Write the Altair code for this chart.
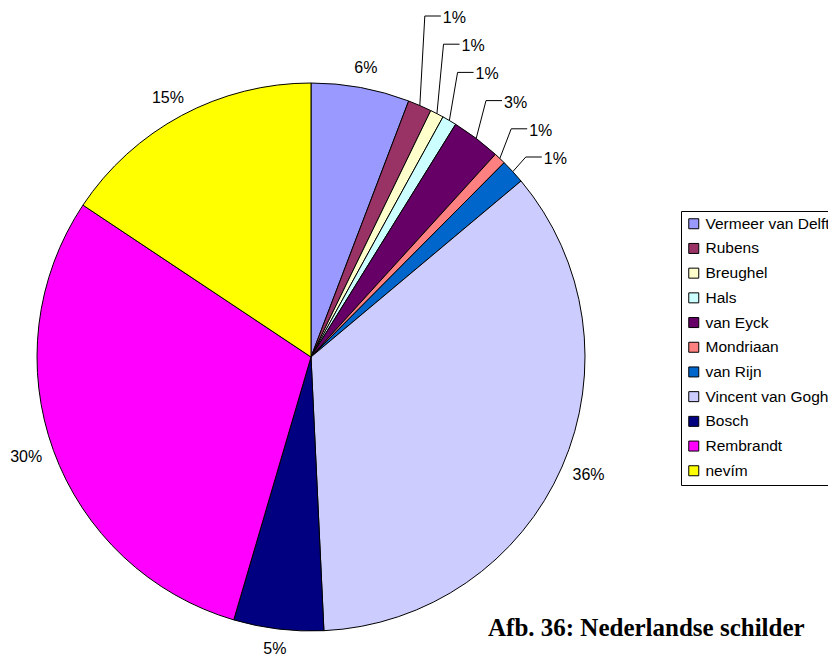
import math
import altair as alt
import pandas as pd

# ---- data ----
names = ["Vermeer van Delft", "Rubens", "Breughel", "Hals", "van Eyck", "Mondriaan",
         "van Rijn", "Vincent van Gogh", "Bosch", "Rembrandt", "nevím"]
values = [5.8, 1.4, 0.8, 0.85, 2.9, 0.7, 1.45, 35.35, 5.3, 29.8, 15.65]
labels = ["6%", "1%", "1%", "1%", "3%", "1%", "1%", "36%", "5%", "30%", "15%"]
colors = ["#9999FF", "#993366", "#FFFFCC", "#CCFFFF", "#660066", "#FF8080",
          "#0066CC", "#CCCCFF", "#000080", "#FF00FF", "#FFFF00"]
with_leader = [False, True, True, True, True, True, True, False, False, False, False]
title_text = "Afb. 36: Nederlandse schilder"

# ---- layout ----
W, H = 820, 650
CX, CY = 303, 349
R = 274
RX_LABEL, RY_LABEL = 303, 294
LEAD_TOP = 10
LEAD_STEP = 28.2

total = sum(values)
rows, lab_rows, lead_rows = [], [], []
cum = 0.0
k = 0
for i, (n, v, lab, lead) in enumerate(zip(names, values, labels, with_leader)):
    rows.append({"idx": i, "name": n, "value": v})
    mid = (cum + v / 2) / total * 2 * math.pi
    cum += v
    if not lead:
        lab_rows.append({"name": n, "label": lab,
                         "x": CX + RX_LABEL * math.sin(mid),
                         "y": CY - RY_LABEL * math.cos(mid), "align": "center"})
    else:
        ty = LEAD_TOP + LEAD_STEP * k
        sx = CX + R * math.sin(mid)
        sy = CY - R * math.cos(mid)
        ex = sx + 5 + 1.6 * k
        ey = ty - 2
        hx = ex + 16
        lead_rows += [{"name": n, "step": 0, "x": sx, "y": sy},
                      {"name": n, "step": 1, "x": ex, "y": ey},
                      {"name": n, "step": 2, "x": hx, "y": ey}]
        lab_rows.append({"name": n, "label": lab, "x": hx + 2, "y": ty, "align": "left"})
        k += 1

df = pd.DataFrame(rows)
df_lab = pd.DataFrame(lab_rows)
df_lead = pd.DataFrame(lead_rows)

xs = alt.Scale(domain=[0, W], range=[0, W], nice=False, zero=False)
ys = alt.Scale(domain=[0, H], range=[0, H], nice=False, zero=False)

pie = alt.Chart(df).mark_arc(radius=R, stroke="black", strokeWidth=1).encode(
    theta=alt.Theta("value:Q", stack=True),
    order=alt.Order("idx:Q"),
    color=alt.Color("name:N", scale=alt.Scale(domain=names, range=colors),
                    legend=alt.Legend(title=None, orient="none", legendX=673, legendY=203,
                                      symbolType="square", symbolSize=100,
                                      symbolStrokeColor="black", symbolStrokeWidth=1,
                                      labelFont="Liberation Sans", labelFontSize=15.5,
                                      labelColor="black", strokeColor="black",
                                      fillColor="white", padding=5, rowPadding=7.7,
                                      labelOffset=4, labelLimit=400)),
    x=alt.value(CX), y=alt.value(CY),
)

lines = alt.Chart(df_lead).mark_line(color="black", strokeWidth=1).encode(
    x=alt.X("x:Q", scale=xs, axis=None),
    y=alt.Y("y:Q", scale=ys, axis=None),
    detail="name:N",
    order="step:Q",
)

txt_c = alt.Chart(df_lab[df_lab["align"] == "center"]).mark_text(
    font="Liberation Sans", fontSize=16, color="black", align="center", baseline="middle"
).encode(x=alt.X("x:Q", scale=xs, axis=None), y=alt.Y("y:Q", scale=ys, axis=None),
         text="label:N")

txt_l = alt.Chart(df_lab[df_lab["align"] == "left"]).mark_text(
    font="Liberation Sans", fontSize=16, color="black", align="left", baseline="middle"
).encode(x=alt.X("x:Q", scale=xs, axis=None), y=alt.Y("y:Q", scale=ys, axis=None),
         text="label:N")

title = alt.Chart(pd.DataFrame({"t": [title_text]})).mark_text(
    font="Liberation Serif", fontSize=25, fontWeight="bold", color="black",
    align="left", baseline="alphabetic"
).encode(x=alt.value(480), y=alt.value(628), text="t:N")

chart = alt.layer(pie, lines, txt_c, txt_l, title).properties(
    width=W, height=H, padding=0, autosize=alt.AutoSizeParams(type="none")
).configure_view(stroke=None)

chart.save("out.html", embed_options={"renderer": "svg", "actions": False})
